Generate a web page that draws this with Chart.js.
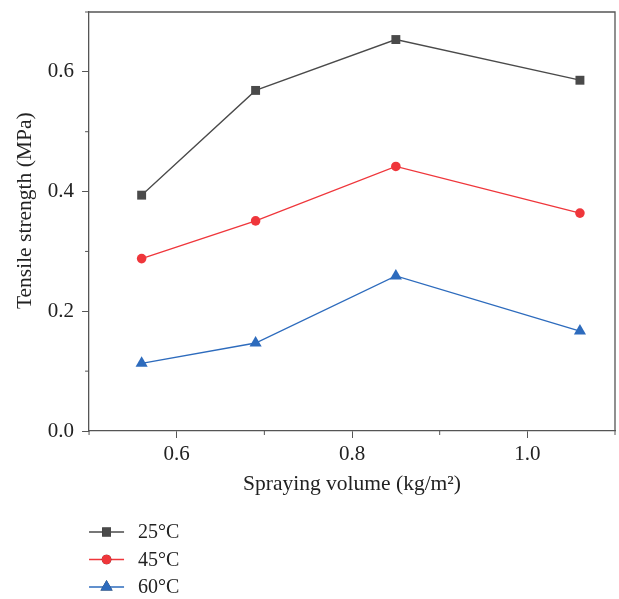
<!DOCTYPE html>
<html>
<head>
<meta charset="utf-8">
<script src="https://cdn.jsdelivr.net/npm/chart.js@4.4.1/dist/chart.umd.min.js"></script>
<style>
  html, body { margin: 0; padding: 0; background: #fff; }
  #wrap { width: 619px; height: 599px; }
</style>
</head>
<body>
<div id="wrap"><canvas id="chart"></canvas></div>
<script>
// values
const sprayingVolume = [0.56, 0.69, 0.85, 1.06];
const strength25 = [0.394, 0.569, 0.654, 0.586];
const strength45 = [0.288, 0.351, 0.442, 0.364];
const strength60 = [0.113, 0.147, 0.259, 0.167];
const seriesLabels = ['25°C', '45°C', '60°C'];
const xTickLabels = [0.6, 0.8, 1.0];
const yTickLabels = [0.0, 0.2, 0.4, 0.6];

const FONT = "'Liberation Serif', 'DejaVu Serif', serif";
const AXIS = '#555555';

const toPoints = ys => ys.map((y, i) => ({ x: sprayingVolume[i], y: y }));

const isLabelled = (v, list) => list.some(t => Math.abs(t - v) < 1e-6);

// short minor ticks, a box round the plot and the legend under it
const extras = {
  id: 'extras',
  afterDraw(chart) {
    const ctx = chart.ctx;
    const area = chart.chartArea;
    const xs = chart.scales.x;
    const ys = chart.scales.y;
    ctx.save();
    ctx.strokeStyle = AXIS;
    ctx.lineWidth = 1.3;
    // top and right side of the frame
    ctx.beginPath();
    ctx.moveTo(area.left, area.top);
    ctx.lineTo(area.right, area.top);
    ctx.lineTo(area.right, area.bottom);
    ctx.stroke();
    // minor ticks
    ctx.lineWidth = 1;
    ctx.beginPath();
    xs.ticks.forEach(t => {
      if (isLabelled(t.value, xTickLabels)) return;
      const px = xs.getPixelForValue(t.value);
      ctx.moveTo(px, area.bottom);
      ctx.lineTo(px, area.bottom + 4);
    });
    ys.ticks.forEach(t => {
      if (isLabelled(t.value, yTickLabels)) return;
      const py = ys.getPixelForValue(t.value);
      ctx.moveTo(area.left, py);
      ctx.lineTo(area.left - 4, py);
    });
    ctx.stroke();

    // legend
    ctx.font = '20px ' + FONT;
    ctx.textBaseline = 'middle';
    chart.data.datasets.forEach((ds, i) => {
      const y = area.bottom + 101 + i * 27.5;
      const x0 = area.left;
      ctx.strokeStyle = ds.borderColor;
      ctx.lineWidth = 1.3;
      ctx.beginPath();
      ctx.moveTo(x0, y);
      ctx.lineTo(x0 + 35, y);
      ctx.stroke();
      Chart.helpers.drawPoint(ctx, {
        pointStyle: ds.pointStyle,
        radius: ds.pointRadius,
        borderWidth: 0,
        rotation: 0
      }, x0 + 17.5, y);
      ctx.fillStyle = ds.pointBackgroundColor;
      ctx.fill();
      ctx.fillStyle = '#222';
      ctx.fillText(ds.label, x0 + 49, y + 1);
    });
    ctx.restore();
  }
};

new Chart(document.getElementById('chart'), {
  type: 'line',
  data: {
    datasets: [
      {
        label: seriesLabels[0],
        data: toPoints(strength25),
        borderColor: '#4a4a4a',
        pointBackgroundColor: '#4a4a4a',
        pointBorderColor: '#4a4a4a',
        pointStyle: 'rect',
        pointRadius: 6.3
      },
      {
        label: seriesLabels[1],
        data: toPoints(strength45),
        borderColor: '#ef363b',
        pointBackgroundColor: '#ef363b',
        pointBorderColor: '#ef363b',
        pointStyle: 'circle',
        pointRadius: 4.8
      },
      {
        label: seriesLabels[2],
        data: toPoints(strength60),
        borderColor: '#2d6bbd',
        pointBackgroundColor: '#2d6bbd',
        pointBorderColor: '#2d6bbd',
        pointStyle: 'triangle',
        pointRadius: 7
      }
    ]
  },
  options: {
    responsive: true,
    maintainAspectRatio: false,
    animation: false,
    layout: { autoPadding: false, padding: { left: 8, right: 3, top: 12, bottom: 98 } },
    elements: {
      line: { borderWidth: 1.3, tension: 0 },
      point: { borderWidth: 0, hoverRadius: 6 }
    },
    plugins: {
      legend: { display: false },
      tooltip: { enabled: false }
    },
    scales: {
      x: {
        type: 'linear',
        min: 0.5,
        max: 1.1,
        title: {
          display: true,
          text: 'Spraying volume (kg/m²)',
          color: '#222',
          font: { family: FONT, size: 21.5 },
          padding: { top: 0 }
        },
        border: { display: true, color: AXIS, width: 1.3 },
        grid: {
          drawOnChartArea: false,
          drawTicks: true,
          tickLength: 7,
          tickColor: c => isLabelled(c.tick.value, xTickLabels) ? AXIS : 'rgba(0,0,0,0)'
        },
        ticks: {
          stepSize: 0.1,
          autoSkip: false,
          maxRotation: 0,
          padding: 4,
          color: '#222',
          font: { family: FONT, size: 21 },
          callback: v => isLabelled(v, xTickLabels) ? v.toFixed(1) : ''
        }
      },
      y: {
        min: 0,
        max: 0.7,
        afterFit: s => { s.paddingTop = 0; },
        title: {
          display: true,
          text: '    Tensile strength (MPa)',
          color: '#222',
          font: { family: FONT, size: 21.5 },
          padding: { bottom: 2 }
        },
        border: { display: true, color: AXIS, width: 1.3 },
        grid: {
          drawOnChartArea: false,
          drawTicks: true,
          tickLength: 7,
          tickColor: c => isLabelled(c.tick.value, yTickLabels) ? AXIS : 'rgba(0,0,0,0)'
        },
        ticks: {
          stepSize: 0.1,
          autoSkip: false,
          padding: 8,
          color: '#222',
          font: { family: FONT, size: 21 },
          callback: v => isLabelled(v, yTickLabels) ? v.toFixed(1) : ''
        }
      }
    }
  },
  plugins: [extras]
});
</script>
</body>
</html>
